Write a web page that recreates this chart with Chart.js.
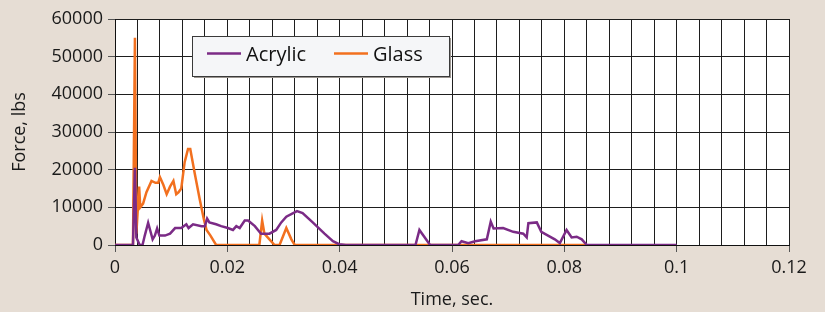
<!DOCTYPE html>
<html>
<head>
<meta charset="utf-8">
<script src="https://cdn.jsdelivr.net/npm/chart.js@4.4.1/dist/chart.umd.min.js"></script>
<style>
  html, body { margin: 0; padding: 0; background: #e6ddd4; }
  #wrap { width: 825px; height: 312px; }
</style>
</head>
<body>
<div id="wrap"><canvas id="forceChart" width="825" height="312"></canvas></div>
<script>
// Acrylic series (time in sec, force in lbs)
const acrylicTime = [0, 0.0032, 0.00355, 0.0038, 0.0044, 0.0049, 0.0053, 0.0059, 0.0067, 0.0071,
  0.0075, 0.0079, 0.0089, 0.0098, 0.0107, 0.0118, 0.0127, 0.0131, 0.0139, 0.0154,
  0.016, 0.0164, 0.0168, 0.018, 0.0189, 0.0201, 0.021, 0.0216, 0.0222, 0.0231,
  0.0237, 0.0249, 0.026, 0.0275, 0.0287, 0.0296, 0.0305, 0.0324, 0.0334, 0.0352,
  0.0373, 0.0388, 0.0399, 0.0411, 0.0535, 0.0542, 0.0561, 0.0611, 0.0617, 0.0629,
  0.0641, 0.0662, 0.0669, 0.0674, 0.0691, 0.0709, 0.0727, 0.0733, 0.0736, 0.0751,
  0.0759, 0.0771, 0.0783, 0.0792, 0.0804, 0.0813, 0.0822, 0.0831, 0.084, 0.1];
const acrylicForce = [0, 0, 20500, 2000, 0, 0, 2500, 5900, 1500, 2500,
  4400, 2500, 2500, 3000, 4500, 4500, 5500, 4500, 5500, 5000,
  5000, 7000, 6000, 5500, 5000, 4500, 4000, 5000, 4500, 6500,
  6500, 5000, 3000, 3000, 4000, 6000, 7500, 9000, 8500, 6000,
  3000, 1000, 200, 0, 0, 4000, 0, 0, 1000, 500,
  1000, 1500, 6200, 4400, 4500, 3500, 3000, 2000, 5800, 6000,
  3500, 2500, 1500, 500, 4000, 2000, 2200, 1500, 0, 0];

// Glass series
const glassTime = [0, 0.0032, 0.00355, 0.0038, 0.0043, 0.0045, 0.005, 0.0056, 0.0065, 0.0072,
  0.0077, 0.008, 0.0086, 0.0092, 0.0098, 0.0104, 0.0109, 0.0113, 0.0118, 0.0124,
  0.013, 0.0134, 0.0142, 0.0151, 0.0158, 0.0163, 0.017, 0.018, 0.0257, 0.0262,
  0.0266, 0.0275, 0.0284, 0.0293, 0.0305, 0.0314, 0.032, 0.084];
const glassForce = [0, 0, 55000, 3000, 15500, 10000, 11000, 14000, 17000, 16500,
  16500, 18000, 16000, 13500, 15500, 17000, 13500, 14000, 15000, 22000,
  25500, 25500, 19000, 12000, 7000, 4000, 2500, 0, 0, 6500,
  3000, 1500, 0, 0, 4500, 1500, 0, 0];

const seriesNames = ['Acrylic', 'Glass'];
const xLabelStep = 0.02;

const ACRYLIC = '#7b2b86';
const GLASS = '#f2701f';
const FONT = '"Open Sans", "DejaVu Sans", sans-serif';

function toPoints(xs, ys) {
    return xs.map((x, i) => ({ x: x, y: ys[i] }));
}

function isLabelTick(v) {
    const r = v / xLabelStep;
    return Math.abs(r - Math.round(r)) < 1e-6;
}

// white plot area behind the grid
const plotBackground = {
    id: 'plotBackground',
    beforeDraw(chart) {
        const a = chart.chartArea, ctx = chart.ctx;
        ctx.save();
        ctx.fillStyle = '#ffffff';
        ctx.fillRect(a.left, a.top, a.right - a.left, a.bottom - a.top);
        ctx.restore();
    }
};

// boxed legend sitting inside the plot
const boxLegend = {
    id: 'boxLegend',
    afterDraw(chart) {
        const ctx = chart.ctx;
        const x = 192.5, y = 36.5, w = 257, h = 40;
        ctx.save();
        ctx.fillStyle = '#9a9590';
        ctx.fillRect(x + 1.5, y + 1.5, w, h);
        ctx.fillStyle = '#f5f6f8';
        ctx.fillRect(x, y, w, h);
        ctx.strokeStyle = '#3a3a3a';
        ctx.lineWidth = 1;
        ctx.strokeRect(x, y, w, h);
        const items = [
            { lx: 207, tx: 246, ds: chart.data.datasets[0] },
            { lx: 334, tx: 373, ds: chart.data.datasets[1] }
        ];
        ctx.font = '20px ' + FONT;
        ctx.textBaseline = 'middle';
        items.forEach(it => {
            ctx.strokeStyle = it.ds.borderColor;
            ctx.lineWidth = 2.5;
            ctx.beginPath();
            ctx.moveTo(it.lx, 53.5);
            ctx.lineTo(it.lx + 34, 53.5);
            ctx.stroke();
            ctx.fillStyle = '#111';
            ctx.fillText(it.ds.label, it.tx, 55);
        });
        ctx.restore();
    }
};

new Chart(document.getElementById('forceChart'), {
    type: 'line',
    data: {
        datasets: [
            {
                label: seriesNames[0],
                data: toPoints(acrylicTime, acrylicForce),
                borderColor: ACRYLIC,
                borderWidth: 2.5,
                pointRadius: 0,
                tension: 0
            },
            {
                label: seriesNames[1],
                data: toPoints(glassTime, glassForce),
                borderColor: GLASS,
                borderWidth: 2.5,
                pointRadius: 0,
                tension: 0
            }
        ]
    },
    options: {
        responsive: false,
        animation: false,
        layout: { padding: { top: 19, right: 36, left: 0, bottom: 0 } },
        plugins: {
            legend: { display: false },
            tooltip: { enabled: false }
        },
        scales: {
            x: {
                type: 'linear',
                min: 0,
                max: 0.12,
                afterFit: s => { s.height = 67; },
                border: { color: '#111', width: 1 },
                grid: {
                    color: '#1e1e1e',
                    lineWidth: 1,
                    drawTicks: true,
                    tickLength: 7,
                    tickColor: c => isLabelTick(c.tick.value) ? '#555' : 'rgba(0,0,0,0)'
                },
                ticks: {
                    stepSize: 0.004,
                    autoSkip: false,
                    maxRotation: 0,
                    padding: 5,
                    color: '#1a1a1a',
                    font: { family: FONT, size: 18 },
                    callback: v => isLabelTick(v) ? String(Number(v.toFixed(3))) : ''
                },
                title: {
                    display: true,
                    text: 'Time, sec.',
                    color: '#1a1a1a',
                    font: { family: FONT, size: 18 },
                    padding: { top: 0, bottom: 1 }
                }
            },
            y: {
                min: 0,
                max: 60000,
                afterFit: s => { s.width = 115; },
                border: { color: '#111', width: 1 },
                grid: {
                    color: '#1e1e1e',
                    lineWidth: 1,
                    drawTicks: true,
                    tickLength: 7,
                    tickColor: '#555'
                },
                ticks: {
                    stepSize: 10000,
                    padding: 5,
                    color: '#1a1a1a',
                    font: { family: FONT, size: 18 },
                    callback: v => String(v)
                },
                title: {
                    display: true,
                    text: 'Force, lbs',
                    color: '#1a1a1a',
                    font: { family: FONT, size: 18 },
                    padding: { top: 9, bottom: 0 }
                }
            }
        }
    },
    plugins: [plotBackground, boxLegend]
});
</script>
</body>
</html>
